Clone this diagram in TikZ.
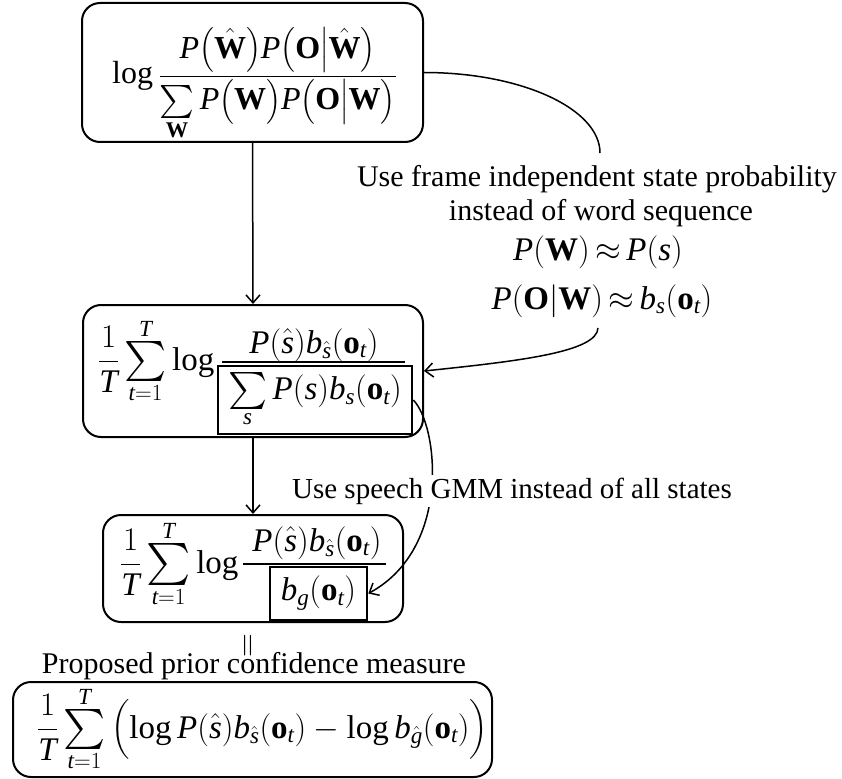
\RequirePackage{fix-cm}
\documentclass[tikz,border=0pt]{standalone}
\usepackage{amsmath}
\usepackage{graphicx}
\usepackage{fontspec}
\setmainfont{Liberation Serif}
\usetikzlibrary{arrows.meta}
% Times-like italic and bold letters inside formulas
\newcommand{\vP}{\mathit{P}}
\newcommand{\vT}{\mathit{T}}
\newcommand{\vs}{\mathit{s}}
\newcommand{\vb}{\mathit{b}}
\newcommand{\vt}{\mathit{t}}
\newcommand{\vg}{\mathit{g}}
\newcommand{\bW}{\mathbf{W}}
\newcommand{\bO}{\mathbf{O}}
\newcommand{\bo}{\mathbf{o}}
% stretchy parentheses without the extra inner spacing
\newcommand{\pa}[1]{{\left(#1\right)}}
% parentheses stretched to at least the given total height
\newcommand{\tpa}[2]{{\left(#2\vcenter{\hbox{\rule{0pt}{#1}}}\right)}}
% summation sign scaled to a given total height, limits above and below
\newcommand{\Sum}[1]{\mathop{\vcenter{\hbox{\resizebox*{!}{#1pt}{$\textstyle\sum$}}}}\limits}
% tighter approximation sign
\newcommand{\apx}{\mathrel{\mkern-2mu\approx\mkern-2mu}}

\begin{document}
\begin{tikzpicture}[x=1pt,y=-1pt,
  font=\fontsize{29}{34}\selectfont,
  box/.style={draw, line width=2pt, rounded corners=18pt, inner sep=0pt},
  denbox/.style={draw, line width=2.6pt, inner sep=0pt, font=\fontsize{33}{40}\selectfont},
  formula/.style={inner sep=0pt, font=\fontsize{33}{40}\selectfont},
  bigtext/.style={inner sep=0pt, font=\fontsize{30}{36}\selectfont},
  fracbar/.style={line width=1.3pt},
  curve/.style={line width=1.5pt},
  link/.style={line width=1.5pt, -{Straight Barb[length=8pt,width=14pt,line width=1.5pt]}},
]
\useasboundingbox (0,0) rectangle (842,778);

% outer rounded boxes
\node[box, minimum width=341pt, minimum height=139pt] (b1) at (252.5,72.5) {};
\node[box, minimum width=340pt, minimum height=132pt] (b2) at (253,371) {};
\node[box, minimum width=300pt, minimum height=107pt] (b3) at (253,568.5) {};
\node[box, minimum width=479pt, minimum height=95pt] (b4) at (252.5,729.5) {};

% posterior of the word sequence
\node[formula, font=\fontsize{32}{38}\selectfont, anchor=base west] (f1) at (112,84) {$\displaystyle\log\frac{\vP\tpa{44pt}{\hat{\bW}}\vP\tpa{44pt}{\bO\middle|\hat{\bW}}}{\Sum{33}_{\bW}\vP\tpa{40pt}{\bW}\vP\tpa{40pt}{\bO\middle|\bW}}$};

% frame-level state posterior
\node[formula, anchor=base west] (l2) at (98,370) {$\displaystyle\frac{1}{\vT}\Sum{40}_{\vt=1}^{\vT}\log$};
\node[formula, anchor=base] (n2) at (314,353) {$\vP\pa{\hat \vs}\vb_{\hat \vs}\pa{\bo_\vt}$};
\draw[fracbar] (222,362) -- (405,362);
\node[denbox, minimum width=194pt, minimum height=68pt] (d2) at (315,400) {$\Sum{37}_\vs \vP\tpa{36pt}{\vs}\vb_\vs\pa{\bo_\vt}$};

% GMM-normalised version
\node[formula, anchor=base west] (l3) at (120,573) {$\displaystyle\frac{1}{\vT}\Sum{42}_{\vt=1}^{\vT}\log$};
\node[formula, anchor=base] (n3) at (317,551) {$\vP\pa{\hat \vs}\vb_{\hat \vs}\pa{\bo_\vt}$};
\draw[fracbar] (243,564) -- (386,564);
\node[denbox, minimum width=97pt, minimum height=53pt] (d3) at (318.5,593.5) {$\vb_\vg\pa{\bo_\vt}$};

% proposed measure
\node[formula, rotate=90] (eq) at (250,646) {$=$};
\node[bigtext, anchor=base] (cap) at (254,673) {Proposed prior confidence measure};
\node[formula, anchor=base west] (f4) at (37,738) {$\displaystyle\frac{1}{\vT}\Sum{40}_{\vt=1}^{\vT}\tpa{50pt}{\log \vP\pa{\hat \vs}\vb_{\hat \vs}\pa{\bo_\vt}-\log \vb_{\hat \vg}\pa{\bo_\vt}}$};

% vertical arrows
\draw[link] (b1.south) -- (b2.north);
\draw[link] (b2.south) -- (b3.north);

% first approximation
\node[bigtext, anchor=base] (lab1a) at (597,186) {Use frame independent state probability};
\node[bigtext, anchor=base] (lab1b) at (601,220) {instead of word sequence};
\node[formula, anchor=base] (lab1c) at (598,260) {$\vP\pa{\bW}\apx \vP\pa{\vs}$};
\node[formula, anchor=base] (lab1d) at (602,309) {$\vP\tpa{36pt}{\bO\middle|\bW}\apx \vb_\vs\pa{\bo_\vt}$};
\coordinate (c1) at (600,153);
\coordinate (c2) at (598,328);
\draw[curve] (b1.east) .. controls (522,72.5) and (600,109) .. (c1);
\draw[link] (c2) .. controls (597,352) and (520,361) .. (b2.east);

% second approximation
\draw[link] (d2.east) .. controls (438,425) and (452,548) .. (d3.east);
\node[fill=white, inner sep=3pt] (lab2) at (512,491) {Use speech GMM instead of all states};
\end{tikzpicture}
\end{document}
